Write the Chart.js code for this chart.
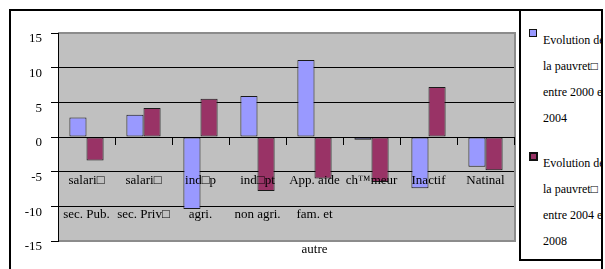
<!DOCTYPE html>
<html>
<head>
	<meta charset="utf-8">
	<title>Evolution de la pauvreté</title>
	<script src="https://cdn.jsdelivr.net/npm/chart.js"></script>
	<style>
		body { margin: 0; background: #fff; }
		#wrap { position: relative; width: 605px; height: 269px; overflow: hidden; }
		#graf { position: absolute; left: 0; top: 0; }
		#cadre {
			position: absolute; left: 9px; top: 9px; width: 590px; height: 300px;
			border: 2px solid #000; border-bottom: none;
		}
		#legende {
			position: absolute; left: 519px; top: 9px; width: 80px; height: 248px;
			border: 2px solid #000; background: #fff; overflow: hidden;
			font-family: "Liberation Serif"; font-size: 12px; color: #000;
		}
		.groupe { position: absolute; left: 22px; line-height: 26px; white-space: nowrap; }
		.marque { position: absolute; left: 8px; box-sizing: border-box; }
	</style>
</head>
<body>
	<div id="wrap">
		<canvas id="graf" width="605" height="269"></canvas>
		<div id="cadre"></div>
		<div id="legende"></div>
	</div>

	<script>
		// categories (lignes d'etiquettes)
		var categories = [
			["salari□", "sec. Pub."],
			["salari□", "sec. Priv□"],
			["ind□p", "agri."],
			["ind□pt", "non agri."],
			["App. aide", "fam. et", "autre"],
			["ch™meur"],
			["Inactif"],
			["Natinal"]
		];
		var series1 = [2.8, 3.2, -10.4, 5.9, 11.1, -0.4, -7.4, -4.3];
		var series2 = [-3.4, 4.2, 5.5, -7.8, -6.0, -6.5, 7.2, -4.8];
		var nomsSeries = [
			["Evolution de", "la pauvret□", "entre 2000 et", "2004"],
			["Evolution de", "la pauvret□", "entre 2004 et", "2008"]
		];
		var couleurs = ["#9999ff", "#993366"];
		var yTicks = [-15, -10, -5, 0, 5, 10, 15];

		// fond gris de la zone de tracé
		var fondPlugin = {
			id: 'fond',
			beforeDraw: function (chart) {
				var a = chart.chartArea, c = chart.ctx;
				c.save();
				c.fillStyle = '#c0c0c0';
				c.fillRect(a.left, a.top, a.right - a.left, a.bottom - a.top);
				c.strokeStyle = '#8c8c8c';
				c.lineWidth = 2;
				c.beginPath();
				c.moveTo(a.left, a.top);
				c.lineTo(a.right + 1, a.top);
				c.lineTo(a.right + 1, a.bottom);
				c.lineTo(a.left, a.bottom);
				c.stroke();
				c.restore();
			}
		};

		var police = { family: 'Liberation Serif', size: 13 };

		var ctx = document.getElementById('graf').getContext('2d');
		var chart = new Chart(ctx, {
			type: 'bar',
			data: {
				labels: categories,
				datasets: [
					{
						label: nomsSeries[0].join(' '),
						data: series1,
						backgroundColor: couleurs[0],
						borderColor: '#1a1a1a',
						borderWidth: 1,
						borderSkipped: false
					},
					{
						label: nomsSeries[1].join(' '),
						data: series2,
						backgroundColor: couleurs[1],
						borderColor: '#1a1a1a',
						borderWidth: 1,
						borderSkipped: false
					}
				]
			},
			options: {
				responsive: false,
				animation: false,
				devicePixelRatio: 1,
				layout: { padding: { left: 0, top: 33, right: 91, bottom: 28 } },
				datasets: { bar: { categoryPercentage: 0.6, barPercentage: 1 } },
				plugins: {
					legend: { display: false },
					tooltip: { enabled: false }
				},
				scales: {
					x: {
						position: { y: 0 },
						offset: true,
						grid: {
							drawOnChartArea: false,
							drawTicks: true,
							tickLength: 7,
							color: '#000',
							offset: true,
							z: 1
						},
						border: { color: '#000', width: 1, z: 1 },
						ticks: {
							autoSkip: false,
							maxRotation: 0,
							minRotation: 0,
							padding: 19,
							color: '#000',
							z: 1,
							font: { family: police.family, size: 13, lineHeight: '34.5px' }
						}
					},
					y: {
						min: -15,
						max: 15,
						afterFit: function (scale) { scale.width = 58; },
						afterBuildTicks: function (scale) {
							scale.ticks = yTicks.map(function (v) { return { value: v }; });
						},
						grid: {
							color: function (c) {
								return Math.abs(c.tick.value) === 15 ? 'rgba(0,0,0,0)' : '#000';
							},
							tickColor: '#000',
							tickLength: 7,
							lineWidth: 1
						},
						border: { color: '#000', width: 1 },
						ticks: {
							padding: 9,
							labelOffset: 6,
							color: '#000',
							font: police
						}
					}
				}
			},
			plugins: [fondPlugin]
		});

		// légende à droite, construite depuis les séries
		var leg = document.getElementById('legende');
		var hauts = [16, 139];
		var marques = [[18, 8, 1], [141, 9, 2]];
		for (var i = 0; i < nomsSeries.length; i++) {
			var m = document.createElement('div');
			m.className = 'marque';
			m.style.top = marques[i][0] + 'px';
			m.style.width = marques[i][1] + 'px';
			m.style.height = marques[i][1] + 'px';
			m.style.background = couleurs[i];
			m.style.border = marques[i][2] + 'px solid #111';
			leg.appendChild(m);
			var g = document.createElement('div');
			g.className = 'groupe';
			g.style.top = hauts[i] + 'px';
			g.innerHTML = nomsSeries[i].join('<br>');
			leg.appendChild(g);
		}
	</script>
</body>
</html>
